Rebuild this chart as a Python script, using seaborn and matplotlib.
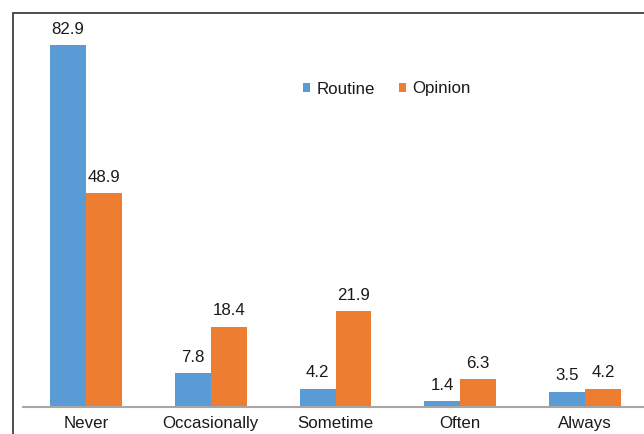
import matplotlib
matplotlib.use("Agg")
import matplotlib.pyplot as plt
import seaborn as sns
import pandas as pd
from matplotlib.patches import Rectangle

categories = ["Never", "Occasionally", "Sometime", "Often", "Always"]
routine = [82.9, 7.8, 4.2, 1.4, 3.5]
opinion = [48.9, 18.4, 21.9, 6.3, 4.2]
series_names = ["Routine", "Opinion"]
colors = ["#5B9BD5", "#ED7D31"]

df = pd.DataFrame({
    "category": categories * 2,
    "value": routine + opinion,
    "series": [series_names[0]] * len(categories) + [series_names[1]] * len(categories),
})

sns.set_style("white")
plt.rcParams["font.family"] = ["Liberation Sans", "DejaVu Sans"]

W, H = 644, 434
FS = 12.2
fig = plt.figure(figsize=(W / 100, H / 100), dpi=100)

# outer frame of the chart area
fig.patches.append(Rectangle((13 / W, -0.1), 1.2, (H - 13) / H + 0.1,
                             transform=fig.transFigure, fill=False,
                             edgecolor="#404040", linewidth=1.3, zorder=0))

left, right, bottom, top = 23.5, 647.5, 407, 20
ax = fig.add_axes([left / W, 1 - bottom / H, (right - left) / W, (bottom - top) / H])
ax.set_facecolor("none")

sns.barplot(data=df, x="category", y="value", hue="series", palette=colors,
            width=0.576, gap=0, saturation=1, linewidth=0, ax=ax, legend=True)

ax.set_ylim(0, (bottom - top) / 4.367)
ax.set_xlim(-0.5, len(categories) - 0.5)
ax.set_xlabel("")
ax.set_ylabel("")
ax.set_yticks([])
ax.tick_params(axis="x", length=0, pad=6.5, labelsize=FS, colors="#1a1a1a")
for s in ["top", "right", "left"]:
    ax.spines[s].set_visible(False)
ax.spines["bottom"].set_color("#A6A6A6")
ax.spines["bottom"].set_linewidth(1.5)

for cont in ax.containers:
    ax.bar_label(cont, fmt="%.1f", padding=6, fontsize=FS, color="#1a1a1a")

leg = ax.legend(loc="center", bbox_to_anchor=((387 - left) / (right - left), (bottom - 89) / (bottom - top)),
                ncol=2, frameon=False, fontsize=FS, handlelength=0.42, handleheight=0.42,
                handletextpad=0.35, columnspacing=1.45, borderaxespad=0)
for t in leg.get_texts():
    t.set_color("#1a1a1a")

fig.savefig("out.png", dpi=100)
